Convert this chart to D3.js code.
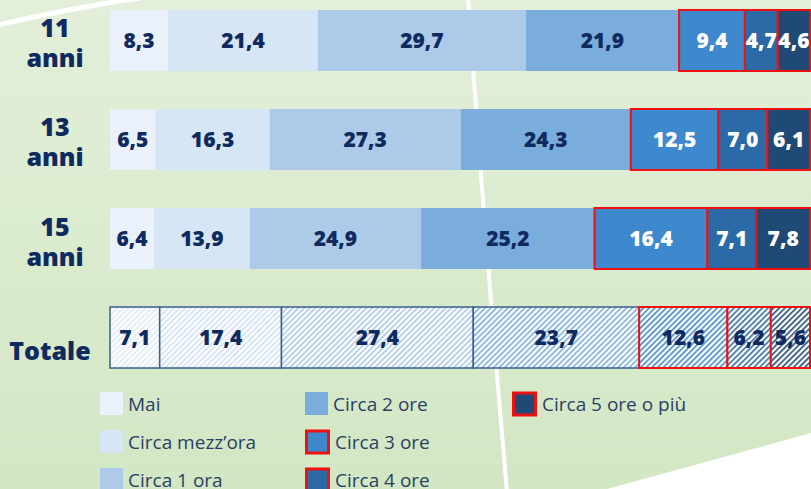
<!DOCTYPE html>
<html>
<head>
<meta charset="utf-8">
<script src="https://cdn.jsdelivr.net/npm/d3@7"></script>
<style>
  html, body { margin: 0; padding: 0; background: #fff; }
  svg { display: block; }
</style>
</head>
<body>
<script>
// data
var rows = ["11 anni", "13 anni", "15 anni", "Totale"];
var series = ["Mai", "Circa mezz\u2019ora", "Circa 1 ora", "Circa 2 ore",
              "Circa 3 ore", "Circa 4 ore", "Circa 5 ore o pi\u00f9"];
var mai      = [8.3, 6.5, 6.4, 7.1];
var mezzOra  = [21.4, 16.3, 13.9, 17.4];
var unOra    = [29.7, 27.3, 24.9, 27.4];
var dueOre   = [21.9, 24.3, 25.2, 23.7];
var treOre   = [9.4, 12.5, 16.4, 12.6];
var quattroOre = [4.7, 7.0, 7.1, 6.2];
var cinqueOre  = [4.6, 6.1, 7.8, 5.6];

var colors = ["#eaf1fa", "#d6e6f5", "#adcbe9", "#7aaddc", "#3e88cd", "#2b6aa6", "#1f4a75"];
var hatch  = ["#dde9f6", "#cfe0f3", "#a9c7e8", "#7aaddc", "#3e88cd", "#2b6aa6", "#1f4a75"];
var redBox = [false, false, false, false, true, true, true];
var whiteText = [false, false, false, false, true, true, true];

var width = 811, height = 489;
var navy = "#0f2a5e";

var svg = d3.select("body").append("svg")
    .attr("width", width)
    .attr("height", height);

var defs = svg.append("defs");
var bg = defs.append("linearGradient").attr("id", "bg")
    .attr("x1", 0).attr("y1", 0).attr("x2", 0).attr("y2", 1);
bg.append("stop").attr("offset", "0%").attr("stop-color", "#e3efd9");
bg.append("stop").attr("offset", "100%").attr("stop-color", "#d2e7c4");

hatch.forEach(function(c, i){
    var p = defs.append("pattern")
        .attr("id", "hatch" + i)
        .attr("patternUnits", "userSpaceOnUse")
        .attr("width", 4).attr("height", 4)
        .attr("patternTransform", "rotate(45)");
    p.append("rect").attr("width", 4).attr("height", 4).attr("fill", "#fff");
    p.append("rect").attr("width", 1.6).attr("height", 4).attr("fill", c);
});

// background field
svg.append("rect").attr("width", width).attr("height", height).attr("fill", "url(#bg)");
svg.append("path")
    .attr("d", "M607,489 L811,433 L811,489 Z")
    .attr("fill", "#fff");
svg.append("path")
    .attr("d", "M-2,25 Q70,8 146,-3")
    .attr("fill", "none").attr("stroke", "#fff").attr("stroke-width", 5);
svg.append("path")
    .attr("d", "M468,-2 Q485,240 507,492")
    .attr("fill", "none").attr("stroke", "#fff").attr("stroke-width", 4);

// table of values for the stack
var table = rows.map(function(r, i){
    var o = {row: r};
    var cols = [mai, mezzOra, unOra, dueOre, treOre, quattroOre, cinqueOre];
    series.forEach(function(s, j){ o[s] = cols[j][i]; });
    return o;
});

var stacked = d3.stack().keys(series).offset(d3.stackOffsetExpand)(table);

var x = d3.scaleLinear().domain([0, 1]).range([110, 810]);
var y = d3.scaleBand().domain(rows).range([10, 368]).paddingInner(0.384).paddingOuter(0);

var layers = svg.append("g").selectAll("g")
    .data(stacked).enter().append("g");

layers.selectAll("rect")
    .data(function(d){ return d.map(function(v){ return {v: v, k: d.index, key: d.key}; }); })
    .enter().append("rect")
    .attr("x", function(d){ return x(d.v[0]); })
    .attr("y", function(d){ return y(d.v.data.row); })
    .attr("width", function(d){ return x(d.v[1]) - x(d.v[0]); })
    .attr("height", y.bandwidth())
    .attr("fill", function(d){
        return d.v.data.row == "Totale" ? "url(#hatch" + d.k + ")" : colors[d.k];
    })
    .attr("stroke", function(d){
        if (redBox[d.k]) return "#f01010";
        return d.v.data.row == "Totale" ? "#3a5f8c" : "none";
    })
    .attr("stroke-width", function(d){
        return redBox[d.k] ? 2 : 1.5;
    });

layers.selectAll("text")
    .data(function(d){ return d.map(function(v){ return {v: v, k: d.index, key: d.key}; }); })
    .enter().append("text")
    .attr("x", function(d){ return (x(d.v[0]) + x(d.v[1])) / 2; })
    .attr("y", function(d){ return y(d.v.data.row) + y.bandwidth() / 2 + 7.5; })
    .attr("text-anchor", "middle")
    .style("font-family", "'Open Sans', sans-serif")
    .style("font-weight", "800")
    .style("font-size", "21px")
    .attr("fill", function(d){
        return (whiteText[d.k] && d.v.data.row != "Totale") ? "#fff" : navy;
    })
    .text(function(d){ return d.v.data[d.key].toFixed(1).replace(".", ","); });

// row labels
var labels = svg.append("g").selectAll("text")
    .data(rows).enter().append("text")
    .attr("text-anchor", "middle")
    .style("font-family", "'Open Sans', sans-serif")
    .style("font-weight", "800")
    .style("font-size", "25px")
    .attr("fill", navy);

labels.each(function(d){
    var t = d3.select(this);
    var cy = y(d) + y.bandwidth() / 2;
    if (d == "Totale") {
        t.attr("x", 50).attr("y", cy + 22).text(d);
    } else {
        var parts = d.split(" ");
        t.attr("x", 55);
        t.append("tspan").attr("x", 55).attr("y", cy - 3).text(parts[0]);
        t.append("tspan").attr("x", 55).attr("y", cy + 27).text(parts[1]);
    }
});

// legend, three columns filled top-down
var legCols = [100, 305, 512];
var legend = svg.append("g").selectAll("g")
    .data(series).enter().append("g")
    .attr("transform", function(d, i){
        return "translate(" + legCols[Math.floor(i / 3)] + "," + (392 + (i % 3) * 38) + ")";
    });

legend.append("rect")
    .attr("x", function(d, i){ return redBox[i] ? 1.5 : 0; })
    .attr("y", function(d, i){ return redBox[i] ? 1 : 0; })
    .attr("width", function(d, i){ return redBox[i] ? 22 : 23; })
    .attr("height", function(d, i){ return redBox[i] ? 22 : 23; })
    .attr("fill", function(d, i){ return colors[i]; })
    .attr("stroke", function(d, i){ return redBox[i] ? "#f01010" : "none"; })
    .attr("stroke-width", 3);

legend.append("text")
    .attr("x", function(d, i){ return redBox[i] ? 30 : 28; })
    .attr("y", 19)
    .style("font-family", "'Open Sans', sans-serif")
    .style("font-size", "19px")
    .attr("fill", "#2b3f66")
    .text(function(d){ return d; });
</script>
</body>
</html>
